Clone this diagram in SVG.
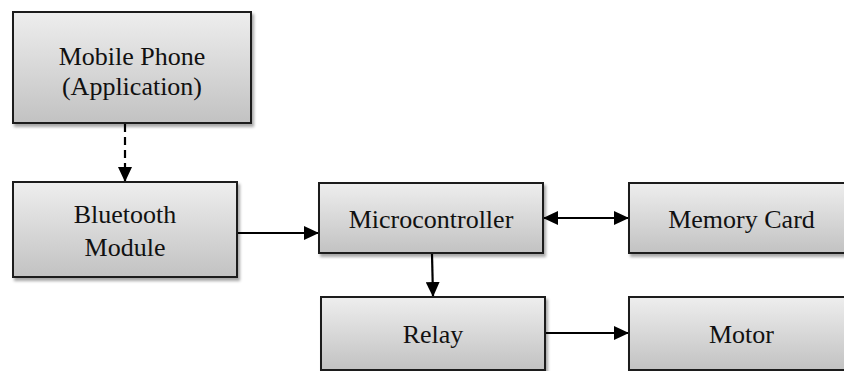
<svg xmlns="http://www.w3.org/2000/svg" width="844" height="371" viewBox="0 0 844 371">
<style>
.box{fill:url(#g);stroke:#1a1a1a;stroke-width:2;filter:url(#sh)}
.t{font-size:26px;fill:#111;text-anchor:middle}
.c{stroke:#000;stroke-width:2.2;fill:none}
</style>
<defs>
<linearGradient id="g" x1="0" y1="0" x2="0" y2="1">
<stop offset="0" stop-color="#eeeeee"/>
<stop offset="1" stop-color="#c2c2c2"/>
</linearGradient>
<filter id="sh" x="-10%" y="-10%" width="120%" height="130%">
<feDropShadow dx="2" dy="3" stdDeviation="1.5" flood-color="#000" flood-opacity="0.35"/>
</filter>
<marker id="ah" markerWidth="15" markerHeight="14" refX="14" refY="7" orient="auto-start-reverse" markerUnits="userSpaceOnUse">
<path d="M0,0 L15,7 L0,14 Z" fill="#000"/>
</marker>
</defs>
<g id="connectors">
<path class="c" d="M125,124 L125,181" stroke-dasharray="8,5" marker-end="url(#ah)"/>
<path class="c" d="M238,233 L318,233" marker-end="url(#ah)"/>
<path class="c" d="M544,218 L628,218" marker-start="url(#ah)" marker-end="url(#ah)"/>
<path class="c" d="M432,254 L433,296" marker-end="url(#ah)"/>
<path class="c" d="M546,333 L628,333" marker-end="url(#ah)"/>
</g>
<g id="mobile" font-family="Liberation Serif, Times New Roman, DejaVu Serif, serif">
<rect class="box" x="13" y="12" width="238" height="111"/>
<text class="t" x="132" y="65">Mobile Phone</text>
<text class="t" x="132" y="95">(Application)</text>
</g>
<g id="bluetooth" font-family="Liberation Serif, Times New Roman, DejaVu Serif, serif">
<rect class="box" x="13" y="182" width="224" height="95"/>
<text class="t" x="125" y="223">Bluetooth</text>
<text class="t" x="125" y="256">Module</text>
</g>
<g id="micro" font-family="Liberation Serif, Times New Roman, DejaVu Serif, serif">
<rect class="box" x="319" y="183" width="224" height="70"/>
<text class="t" x="431" y="228">Microcontroller</text>
</g>
<g id="memory" font-family="Liberation Serif, Times New Roman, DejaVu Serif, serif">
<rect class="box" x="629" y="183" width="225" height="70"/>
<text class="t" x="741.5" y="228">Memory Card</text>
</g>
<g id="relay" font-family="Liberation Serif, Times New Roman, DejaVu Serif, serif">
<rect class="box" x="321" y="297" width="224" height="73"/>
<text class="t" x="433" y="343">Relay</text>
</g>
<g id="motor" font-family="Liberation Serif, Times New Roman, DejaVu Serif, serif">
<rect class="box" x="629" y="297" width="225" height="73"/>
<text class="t" x="741.5" y="343">Motor</text>
</g>
</svg>
